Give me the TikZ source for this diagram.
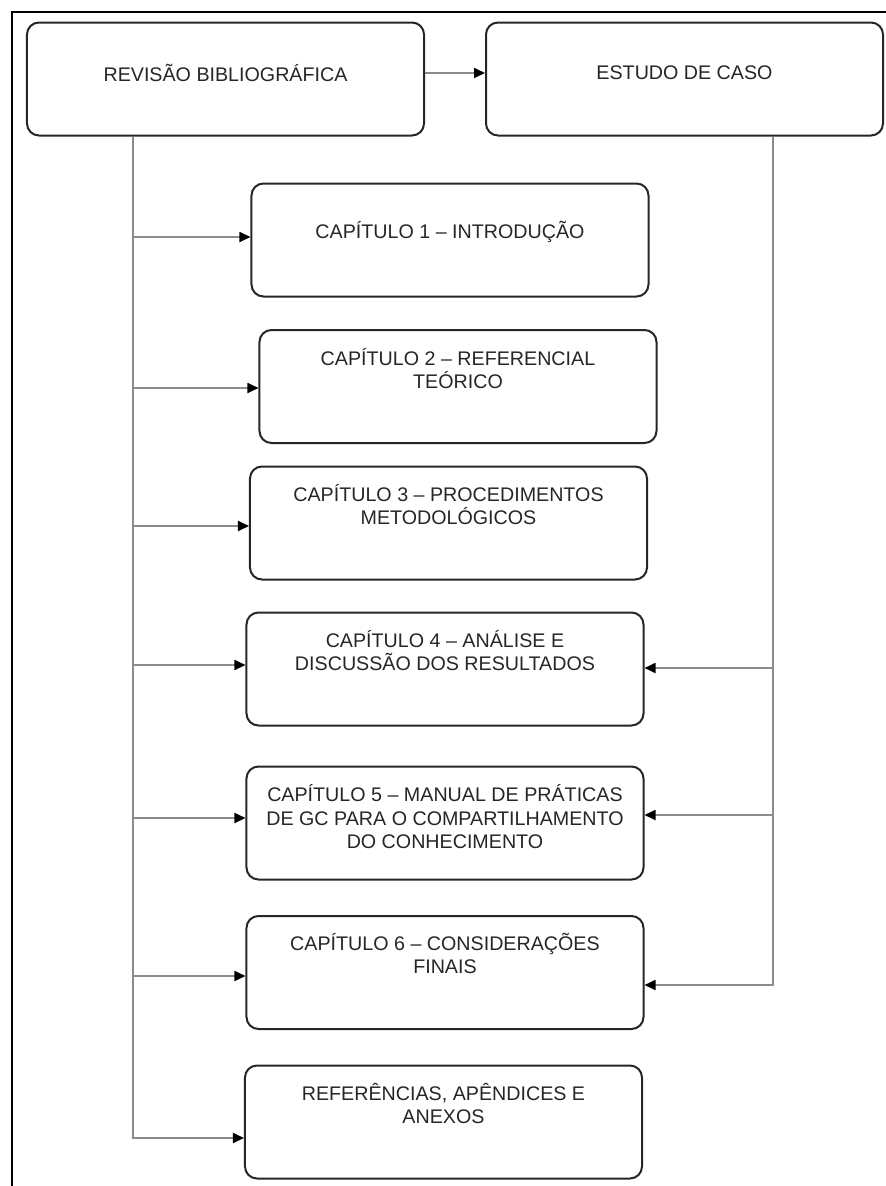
\documentclass[tikz,border=0pt]{standalone}
\usepackage{fontspec}
\setmainfont{Liberation Sans}
\usetikzlibrary{positioning, arrows.meta}

\tikzset{
    chapbox/.style={draw=black!85, line width=0.4mm, rounded corners=2.4mm,
        minimum width=79.4mm, minimum height=22.6mm, inner sep=0pt},
    chaptext/.style={font=\fontsize{11.2}{13.4}\selectfont, text=black!85,
        align=center, inner sep=0pt},
    link/.style={draw=black!45, line width=0.35mm},
    tip/.style={-{Triangle[length=2.2mm, width=2mm, color=black]}},
}

\begin{document}
\begin{tikzpicture}[x=0.2mm, y=-0.2mm]

    \useasboundingbox (0,0) rectangle (886,1186);
    \draw[line width=0.4mm] (12,1186) -- (12,12) -- (886,12);

    % TOP: the two sources
    \node[chapbox] (rev) at (225.5,79) {};
    \node[chaptext] (revT) at (225.5,73) {REVISÃO BIBLIOGRÁFICA};
    \node[chapbox] (est) at (684.5,79) {};
    \node[chaptext] (estT) at (684.5,73) {ESTUDO DE CASO};
    \draw[link, tip] ([yshift=1.2mm]rev.east) -- ([yshift=1.2mm]est.west);

    % CHAPTERS
    \foreach \n/\cx/\cy/\ty/\txt in {
        c1/450/240/232/{CAPÍTULO 1 – INTRODUÇÃO},
        c2/458/386.5/368.5/{CAPÍTULO 2 – REFERENCIAL\\TEÓRICO},
        c3/448.5/523/504.5/{CAPÍTULO 3 – PROCEDIMENTOS\\METODOLÓGICOS},
        c4/445/669/650.5/{CAPÍTULO 4 – ANÁLISE E\\DISCUSSÃO DOS RESULTADOS},
        c5/445/823/817/{CAPÍTULO 5 – MANUAL DE PRÁTICAS\\DE GC PARA O COMPARTILHAMENTO\\DO CONHECIMENTO},
        c6/445/972.5/953.5/{CAPÍTULO 6 – CONSIDERAÇÕES\\FINAIS},
        ref/443.5/1122/1103.5/{REFERÊNCIAS, APÊNDICES E\\ANEXOS}} {
        \node[chapbox] (\n) at (\cx,\cy) {};
        \node[chaptext] (\n T) at (\cx,\ty) {\txt};
    }

    % LEFT bus from the review
    \coordinate (busL) at (133,0);
    \draw[link, tip] (rev.south -| busL) |- ([yshift=-3.2mm]ref.west);
    \foreach \n/\dy in {c1/0.6, c2/-0.3, c3/-0.6, c4/0.8, c5/1, c6/-0.7} {
        \coordinate (w\n) at ([yshift=\dy mm]\n.west);
        \draw[link, tip] (busL |- w\n) -- (w\n);
    }

    % RIGHT bus from the case study
    \coordinate (busR) at (773,0);
    \draw[link, tip] (est.south -| busR) |- ([yshift=-2.5mm]c6.east);
    \foreach \n/\dy in {c4/0.2, c5/1.6} {
        \coordinate (e\n) at ([yshift=\dy mm]\n.east);
        \draw[link, tip] (busR |- e\n) -- (e\n);
    }

\end{tikzpicture}
\end{document}
